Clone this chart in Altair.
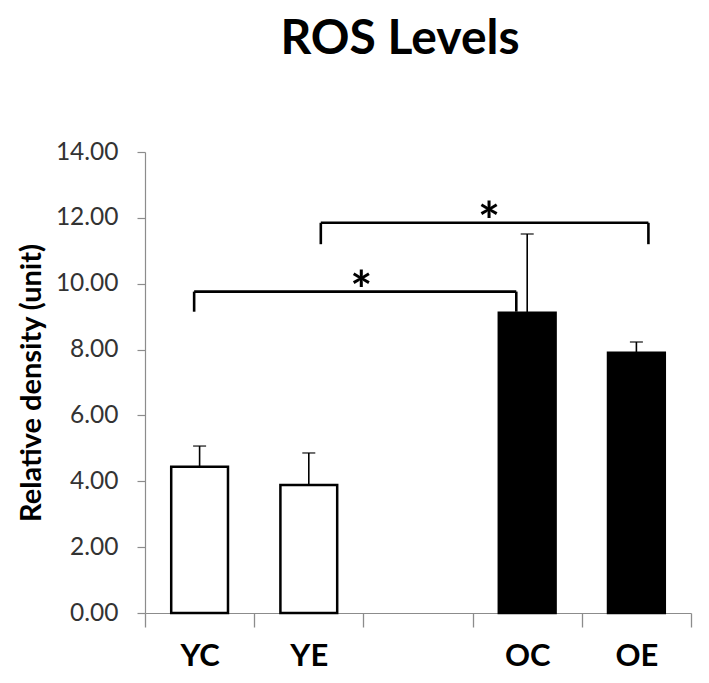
import altair as alt
import pandas as pd

# ---- data ----
groups = ["YC", "YE", " ", "OC", "OE"]          # x slots (third slot is empty)
bar_groups = ["YC", "YE", "OC", "OE"]
means = [4.44, 3.89, 9.12, 7.90]
errors = [0.63, 0.97, 2.39, 0.33]
fills = ["white", "white", "black", "black"]

# significance brackets
br_start = ["YC", "YE"]
br_end = ["OC", "OE"]
br_level = [9.76, 11.85]
br_foot = [9.15, 11.20]
br_star_group = ["YE", "OC"]
br_label = ["*", "*"]

y_ticks = [0, 2, 4, 6, 8, 10, 12, 14]

bars = pd.DataFrame({"group": bar_groups, "mean": means, "err": errors, "fill": fills})
bars["upper"] = bars["mean"] + bars["err"]
brackets = pd.DataFrame({"start": br_start, "end": br_end, "level": br_level,
                         "foot": br_foot, "star": br_star_group, "label": br_label})

FONT = "Lato"
x_scale = alt.Scale(domain=groups, paddingInner=0, paddingOuter=0)
y_scale = alt.Scale(domain=[0, 14], nice=False, zero=True)

x_axis = alt.Axis(title=None, labelAngle=0, tickBand="extent", tickSize=14,
                  labelFont=FONT, labelFontSize=31, labelFontWeight="bold",
                  labelColor="black", labelPadding=14,
                  domainColor="#8c8c8c", tickColor="#8c8c8c", domainWidth=1.2, tickWidth=1.3)
y_axis = alt.Axis(title="Relative density (unit)", values=y_ticks, format=".2f",
                  grid=False, tickSize=8, labelPadding=19,
                  labelFont=FONT, labelFontSize=24.5, labelColor="#333333",
                  titleFont=FONT, titleFontSize=29, titleFontWeight="bold",
                  titleColor="black", titlePadding=9,
                  domainColor="#8c8c8c", tickColor="#8c8c8c", domainWidth=1.2, tickWidth=1.2)

base = alt.Chart(bars)

bar_layer = base.mark_bar(stroke="black", strokeWidth=2.5, width={"band": 0.52}).encode(
    x=alt.X("group:N", scale=x_scale, axis=x_axis, sort=groups),
    y=alt.Y("mean:Q", scale=y_scale, axis=y_axis),
    color=alt.Color("fill:N", scale=None),
)

err_rule = base.mark_rule(color="black", strokeWidth=1.6).encode(
    x=alt.X("group:N", scale=x_scale),
    y=alt.Y("mean:Q", scale=y_scale),
    y2="upper:Q",
)
err_cap = base.mark_tick(color="black", thickness=1.6, size=13).encode(
    x=alt.X("group:N", scale=x_scale),
    y=alt.Y("upper:Q", scale=y_scale),
)


def bracket_layers(i, bp_start, bp_end, bp_star):
    src = alt.Chart(brackets).transform_filter(alt.datum.start == br_start[i])
    horiz = src.mark_rule(color="black", strokeWidth=2.6).encode(
        x=alt.X("start:N", scale=x_scale, bandPosition=bp_start),
        x2=alt.X2("end:N", bandPosition=bp_end),
        y=alt.Y("level:Q", scale=y_scale),
    )
    left = src.mark_rule(color="black", strokeWidth=2.6).encode(
        x=alt.X("start:N", scale=x_scale, bandPosition=bp_start),
        y=alt.Y("foot:Q", scale=y_scale),
        y2="level:Q",
    )
    right = src.mark_rule(color="black", strokeWidth=2.6).encode(
        x=alt.X("end:N", scale=x_scale, bandPosition=bp_end),
        y=alt.Y("foot:Q", scale=y_scale),
        y2="level:Q",
    )
    star = src.mark_text(font=FONT, fontSize=52, fontWeight="bold", color="black",
                         baseline="alphabetic", dy=17).encode(
        x=alt.X("star:N", scale=x_scale, bandPosition=bp_star),
        y=alt.Y("level:Q", scale=y_scale),
        text="label:N",
    )
    return [horiz, left, right, star]


layers = [bar_layer, err_rule, err_cap]
layers += bracket_layers(0, 0.45, 0.40, 0.98)
layers += bracket_layers(1, 0.61, 0.61, 0.15)

chart = alt.layer(*layers).properties(
    width=546,
    height=461,
    title=alt.TitleParams("ROS Levels", font=FONT, fontSize=48, fontWeight="bold",
                          color="black", anchor="middle", frame="group", dx=-18, offset=75),
    autosize=alt.AutoSizeParams(type="none"),
    padding={"left": 137, "top": 144, "right": 10, "bottom": 62},
).configure_view(stroke=None)

chart.save("out.html", embed_options={"renderer": "svg", "actions": False})
